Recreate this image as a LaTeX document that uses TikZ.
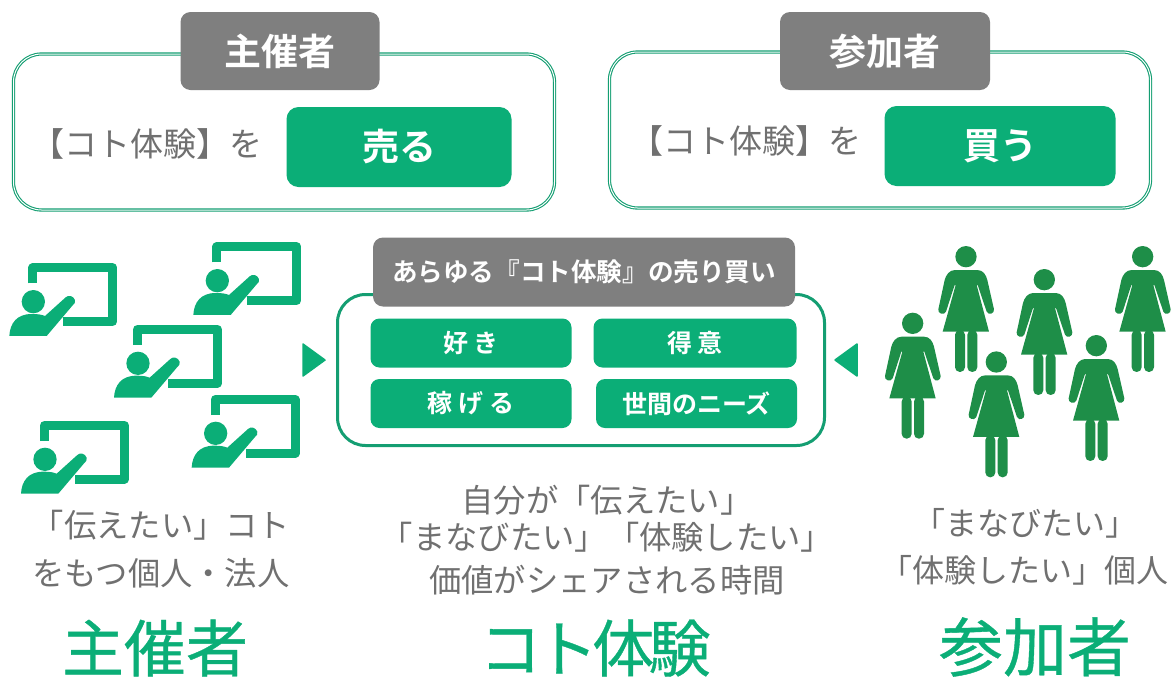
\documentclass[tikz,border=0pt]{standalone}
\usepackage{fontspec}
\setmainfont{Noto Sans CJK JP}
\newfontfamily\jpb{Noto Sans CJK JP Bold}
\newfontfamily\jpm[FakeBold=0.6]{Noto Sans CJK JP}
\newfontfamily\jpt[FakeBold=0.6,LetterSpace=-9]{Noto Sans CJK JP}
\definecolor{grn}{HTML}{0BAE77}
\definecolor{dgrn}{HTML}{1E8E48}
\definecolor{gry}{HTML}{7F7F7F}
\definecolor{txt}{HTML}{707070}
\definecolor{edge}{HTML}{149E72}
\tikzset{
  card/.style={draw=edge,line width=1.1pt,double=white,double distance=1pt,rounded corners=28pt,fill=white},
  solidcard/.style={draw=edge,line width=3pt,rounded corners=28pt,fill=white},
  tag/.style={fill=gry,rounded corners=10pt,text=white,align=center,inner sep=0pt},
  act/.style={fill=grn,rounded corners=12pt,text=white,align=center,inner sep=0pt},
  pill/.style={fill=grn,rounded corners=9pt,text=white,align=center,inner sep=0pt},
  body/.style={text=txt,align=center,inner sep=0pt},
  big/.style={text=grn,align=center,inner sep=0pt},
  tri/.style={fill=grn,draw=grn,line width=1.5pt,line join=round}
}
\newcommand{\fs}[1]{\fontsize{#1}{#1}\selectfont}
\newcommand{\teacher}[2]{%
 \begin{scope}[shift={(#1,#2)},x=0.3333pt,y=-0.3333pt]
  \draw[grn,line width=9pt,line join=round] (98.5,160) -- (98.5,113.5) -- (338.5,113.5) -- (338.5,274.5) -- (190,274.5);
  \fill[grn] (100,215) circle (35);
  \fill[grn] (28,318) .. controls (30,280) and (50,252) .. (95,252)
    .. controls (115,252) and (125,254) .. (135,258) -- (197,202)
    .. controls (205,194) and (220,197) .. (225,210) .. controls (228,218) and (222,222) .. (218,226)
    -- (140,318) -- cycle;
 \end{scope}}
\newcommand{\woman}[2]{%
 \begin{scope}[shift={(#1,#2)},x=0.3333pt,y=-0.3333pt]
  \fill[dgrn] (288,80) circle (32);
  \fill[dgrn] (255,120) -- (322,120) .. controls (340,120) and (348,135) .. (352,150)
    -- (372,238) .. controls (374,250) and (356,258) .. (350,245) -- (323,165) -- (320,165) -- (357,305) -- (218,305) -- (257,165) -- (254,165)
    -- (228,245) .. controls (222,258) and (202,250) .. (205,238) -- (224,150) .. controls (228,135) and (238,120) .. (255,120) -- cycle;
  \fill[dgrn,rounded corners=4.8pt] (255,300) -- (285,300) -- (285,426) -- (255,426) -- cycle;
  \fill[dgrn,rounded corners=4.8pt] (292,300) -- (322,300) -- (322,426) -- (292,426) -- cycle;
 \end{scope}}
\begin{document}
\begin{tikzpicture}[x=1pt,y=-1pt]
\useasboundingbox (0,0) rectangle (1173,681);
% top cards
\node[card] (cardA) at (284,132) [minimum width=541pt,minimum height=156pt,inner sep=0pt] {};
\node[card] (cardB) at (880,130) [minimum width=541pt,minimum height=156pt,inner sep=0pt] {};
\node[tag,minimum width=199pt,minimum height=78pt] (tagA) at (280,51) {\jpb\fs{37}主催者};
\node[tag,minimum width=210pt,minimum height=78pt] (tagB) at (885,51) {\jpb\fs{37}参加者};
\node[body,anchor=west] (txtA) at (31,144) {\fs{33}【コト体験】を};
\node[body,anchor=west] (txtB) at (630,141) {\fs{33}【コト体験】を};
\node[act,minimum width=225pt,minimum height=80pt] (btnA) at (399,147) {\jpb\fs{37}売る};
\node[act,minimum width=231pt,minimum height=80pt] (btnB) at (1000,146) {\jpb\fs{37}買う};
% centre
\node[solidcard,minimum width=487pt,minimum height=151pt,inner sep=0pt] (mid) at (581,370) {};
\node[tag,minimum width=422pt,minimum height=69pt] (midtag) at (584,272) {\jpb\fs{25.6}あらゆる『コト体験』の売り買い};
\node[pill,minimum width=201pt,minimum height=49pt] (p1) at (471,343) {\jpb\fs{25}好 き};
\node[pill,minimum width=203pt,minimum height=49pt] (p2) at (695,343) {\jpb\fs{25}得 意};
\node[pill,minimum width=201pt,minimum height=49pt] (p3) at (471,403.5) {\jpb\fs{25}稼 げ る};
\node[pill,minimum width=201pt,minimum height=49pt] (p4) at (696.5,403.5) {\jpb\fs{25}世間のニーズ};
\fill[tri] (303,344) -- (325,360) -- (303,376) -- cycle;
\fill[tri] (857,344) -- (835,360) -- (857,376) -- cycle;
% icons
\teacher{0}{230}\teacher{184}{209}\teacher{104.67}{291.67}\teacher{182.33}{361.67}\teacher{11.67}{387.67}
\woman{870}{230}\woman{816.67}{296.67}\woman{900.33}{335.33}\woman{948.33}{253}\woman{1000.33}{319}\woman{1046.67}{230}
% captions
\node[body] (c1) at (161,525) {\fs{32.3}「伝えたい」コト};
\node[body] (c2) at (161,573) {\fs{32.3}をもつ個人・法人};
\node[body] (c3) at (607,500) {\fs{32.3}自分が「伝えたい」};
\node[body] (c4) at (607,537) {\fs{32.3}「まなびたい」「体験したい」};
\node[body] (c5) at (607,580) {\fs{32.3}価値がシェアされる時間};
\node[body] (c6) at (1025,523) {\fs{32}「まなびたい」};
\node[body] (c7) at (1024,570) {\fs{32}「体験したい」個人};
\node[big] (b1) at (155,648) {\jpm\fs{62}主催者};
\node[big] (b2) at (595,648) {\jpt\fs{62}コト体験};
\node[big] (b3) at (1035,647) {\jpm\fs{64}参加者};
\end{tikzpicture}
\end{document}
